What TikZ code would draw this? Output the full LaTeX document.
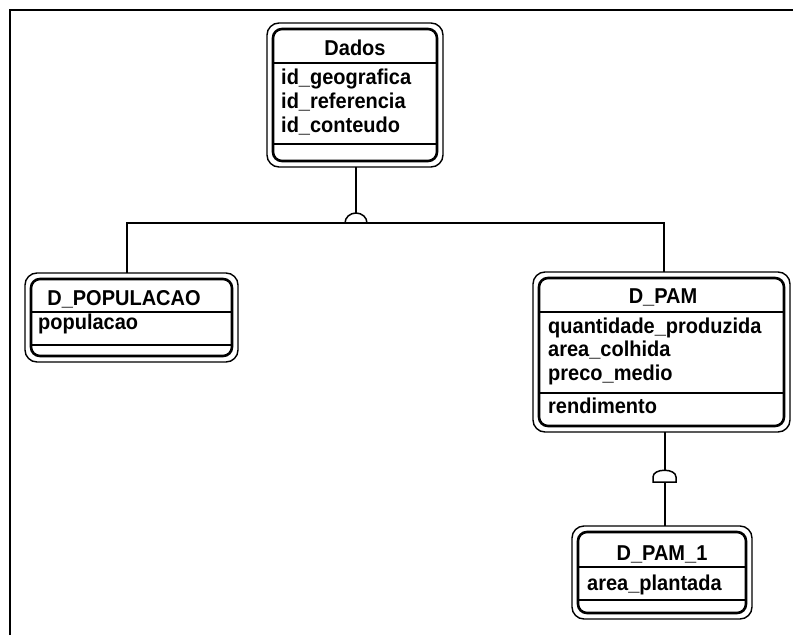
\documentclass[tikz,border=0pt]{standalone}
\usepackage{fontspec}
\setmainfont{Liberation Sans}
\newfontfamily\erfont{Liberation Sans}[FakeStretch=0.93]
\usepackage{tikz}
\usetikzlibrary{positioning}
\usetikzlibrary{fit}

\tikzset{
    entity/.style = {draw, line width=2.6pt, rounded corners=9pt, inner sep=0pt, outer sep=0pt},
    frame/.style  = {draw, line width=1.4pt, rounded corners=12pt, inner sep=6pt, outer sep=0pt},
    title/.style  = {anchor=base, inner sep=0pt, font=\erfont\bfseries\fontsize{21.5}{24}\selectfont},
    attr/.style   = {anchor=base west, inner sep=0pt, font=\erfont\bfseries\fontsize{21.5}{24}\selectfont},
    sep/.style    = {line width=1.1pt},
    conn/.style   = {line width=1.5pt},
}

\begin{document}
\begin{tikzpicture}[x=1pt, y=-1pt]
    \useasboundingbox (0,0) rectangle (793,635);
    \draw[line width=2pt] (10,635) -- (10,10) -- (793,10);

    % entities
    \node[entity, minimum width=164pt, minimum height=132pt] (dados) at (355,95) {};
    \node[entity, minimum width=201pt, minimum height=77pt]  (pop)   at (131.5,317.5) {};
    \node[entity, minimum width=245pt, minimum height=148pt] (pam)   at (661.5,352) {};
    \node[entity, minimum width=168pt, minimum height=81pt]  (pam1)  at (662,572.5) {};
    \node[frame, fit=(dados)] (dadosF) {};
    \node[frame, fit=(pop)]   (popF)   {};
    \node[frame, fit=(pam)]   (pamF)   {};
    \node[frame, fit=(pam1)]  (pam1F)  {};
    \foreach \n/\y in {dados/63, dados/144, pop/312, pop/345, pam/312, pam/393, pam1/567, pam1/600}
        \draw[sep] (\n.west |- 0,\y) -- (\n.east |- 0,\y);

    % names
    \node[title] (dadosT) at (355,55)  {Dados};
    \node[title] (popT)   at (124,305) {D\_POPULACAO};
    \node[title] (pamT)   at (663,303) {D\_PAM};
    \node[title] (pam1T)  at (662,560) {D\_PAM\_1};

    % attributes
    \foreach \a [count=\i] in {id\_geografica, id\_referencia, id\_conteudo}
        \node[attr] (dadosA\i) at (281,61+23.8*\i) {\a};
    \node[attr] (popA1) at (38,329) {populacao};
    \foreach \a [count=\i] in {quantidade\_produzida, area\_colhida, preco\_medio}
        \node[attr] (pamA\i) at (548,309.5+23.5*\i) {\a};
    \node[attr] (pamK1)  at (548,413) {rendimento};
    \node[attr] (pam1A1) at (587,590) {area\_plantada};

    % subtype links
    \coordinate (busM) at (356,223);
    \coordinate (busL) at (127,223);
    \coordinate (busR) at (664,223);
    \draw[conn] (dadosF.south -| busM) -- ([shift={(0,-10)}]busM);
    \draw[conn] (popF.north -| busL) -- (busL) -- (busR) -- (pamF.north -| busR);
    \draw[conn] (345,223) arc[start angle=180, end angle=360, x radius=11, y radius=10];

    \coordinate (stemP) at (665,476);
    \draw[conn] (pamF.south -| stemP) -- (pam1F.north -| stemP);
    \draw[conn, fill=white] (653,482) -- (653,477) .. controls (653,468) and (676,468) .. (676,477) -- (676,482) -- cycle;
\end{tikzpicture}
\end{document}
